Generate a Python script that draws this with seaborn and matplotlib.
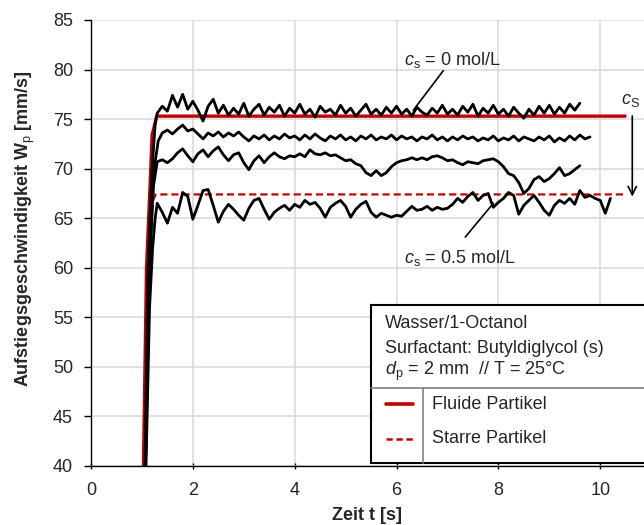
import numpy as np
import pandas as pd
import seaborn as sns
import matplotlib.pyplot as plt
from matplotlib.patches import Rectangle
from matplotlib.lines import Line2D

# Rise-velocity curves (sampling step 0.1 s after the rise)
STEP = 0.1

# c_s = 0 mol/L
a_rise_t = [1.06, 1.12, 1.20, 1.26]
a_rise_v = [40.0, 60.0, 70.0, 74.5]
a_start = 1.3
a_vals = [75.6, 76.3, 75.8, 77.4, 76.2, 77.5, 76.0, 76.8, 75.9, 74.8,
          76.3, 77.0, 75.6, 76.4, 75.4, 76.1, 75.5, 76.6, 75.3, 76.0,
          76.5, 75.4, 76.2, 75.7, 76.4, 75.3, 76.1, 75.6, 76.5, 75.5,
          76.0, 75.2, 76.3, 75.7, 76.0, 75.4, 76.4, 75.6, 76.1, 75.3,
          75.9, 76.5, 75.5, 76.0, 75.4, 76.2, 75.6, 76.3, 75.5, 76.0,
          75.3, 76.2, 75.7, 75.4, 76.1, 75.6, 76.4, 75.5, 76.0, 75.4,
          76.3, 75.7, 76.5, 75.3, 76.1, 75.6, 76.4, 75.5, 76.0, 75.3,
          76.2, 75.6, 75.1, 76.0, 75.4, 76.3, 75.6, 76.4, 75.5, 76.2,
          75.6, 76.5, 75.9, 76.6]

# second curve
b_rise_t = [1.07, 1.14, 1.24, 1.32]
b_rise_v = [40.0, 60.0, 70.0, 72.8]
b_start = 1.4
b_vals = [73.6, 73.9, 73.5, 74.0, 74.4, 73.8, 74.0, 73.5, 73.0, 73.6,
          73.3, 73.7, 73.2, 73.6, 73.3, 73.7, 73.2, 72.8, 73.3, 73.0,
          73.4, 72.9, 73.3, 73.0, 73.5, 73.1, 73.3, 72.9, 73.4, 73.0,
          73.5, 73.1, 72.8, 73.3, 73.0, 73.4, 72.9, 73.2, 72.8, 73.3,
          73.0, 73.4, 72.9, 73.2, 73.0, 73.4, 72.9, 73.3, 73.0, 73.2,
          72.8, 73.2, 73.0, 73.4, 72.9, 73.2, 72.8, 73.2, 72.9, 73.3,
          73.0, 73.2, 72.8, 73.1, 72.9, 73.3, 72.8, 73.1, 72.9, 73.3,
          72.8, 73.2, 73.0, 72.8, 73.2, 72.9, 73.3, 72.7, 73.1, 72.8,
          73.3, 72.9, 73.4, 73.0, 73.2]

# third curve
c_rise_t = [1.07, 1.15, 1.22]
c_rise_v = [40.0, 60.0, 68.0]
c_start = 1.3
c_vals = [70.7, 70.9, 70.6, 71.0, 71.6, 72.0, 71.3, 70.7, 71.5, 71.9,
          71.2, 71.8, 72.2, 71.4, 70.8, 71.4, 71.6, 70.6, 69.9, 70.8,
          71.3, 70.6, 71.2, 71.6, 71.2, 71.0, 71.3, 71.2, 71.5, 71.2,
          71.9, 71.5, 71.4, 71.6, 71.3, 71.4, 71.1, 70.8, 70.9, 70.5,
          70.3, 69.6, 69.3, 69.8, 69.3, 69.6, 70.2, 70.6, 70.8, 70.9,
          71.1, 70.9, 71.1, 70.9, 71.2, 71.3, 71.1, 70.8, 70.9, 70.6,
          70.4, 70.7, 70.6, 70.5, 70.8, 70.9, 71.0, 70.7, 70.2, 69.5,
          69.3, 68.6, 67.5, 68.0, 68.9, 69.2, 68.7, 69.0, 69.5, 70.1,
          69.3, 69.5, 69.9, 70.3]

# c_s = 0.5 mol/L
d_rise_t = [1.08, 1.15, 1.21, 1.26]
d_rise_v = [40.0, 56.0, 62.0, 65.0]
d_start = 1.3
d_vals = [66.5, 65.6, 64.5, 66.1, 65.5, 67.6, 67.2, 64.9, 66.3, 67.8,
          67.9, 66.3, 64.6, 65.7, 66.4, 65.9, 65.3, 64.8, 66.0, 66.8,
          67.0, 65.9, 64.9, 65.6, 66.0, 66.3, 65.8, 66.4, 66.1, 66.8,
          66.4, 66.6, 66.0, 65.1, 66.1, 66.5, 66.8, 66.2, 65.1, 65.9,
          66.4, 66.7, 65.6, 65.1, 65.5, 65.3, 65.1, 65.3, 65.2, 65.7,
          66.2, 65.8, 65.9, 66.2, 65.8, 66.1, 65.9, 66.0, 66.4, 67.0,
          66.6, 67.2, 67.6, 66.8, 67.3, 67.5, 66.1, 66.6, 67.0, 67.6,
          67.3, 65.4, 66.3, 66.8, 67.3, 66.6, 65.8, 65.3, 66.3, 66.8,
          66.5, 67.0, 66.4, 67.8, 67.1, 67.3, 67.0, 66.8, 65.5, 67.0]

# model lines
fluid_t = [1.03, 1.09, 1.16, 1.20, 1.29, 10.49]
fluid_v = [40.0, 60.0, 68.3, 73.4, 75.3, 75.3]
rigid_t = [1.22, 1.27, 10.49]
rigid_v = [66.8, 67.4, 67.4]


def build_curve(rise_t, rise_v, start, vals, name):
    t = list(rise_t) + list(np.round(start + STEP * np.arange(len(vals)), 2))
    v = list(rise_v) + list(vals)
    return pd.DataFrame({'t': t, 'w': v, 'curve': name})


curves = pd.concat([
    build_curve(a_rise_t, a_rise_v, a_start, a_vals, 'a'),
    build_curve(b_rise_t, b_rise_v, b_start, b_vals, 'b'),
    build_curve(c_rise_t, c_rise_v, c_start, c_vals, 'c'),
    build_curve(d_rise_t, d_rise_v, d_start, d_vals, 'd'),
], ignore_index=True)

sns.set_style("whitegrid")
plt.rcParams['font.family'] = ['Liberation Sans', 'DejaVu Sans']
plt.rcParams['mathtext.fontset'] = 'custom'
plt.rcParams['mathtext.rm'] = 'Liberation Sans'
plt.rcParams['mathtext.it'] = 'Liberation Sans:italic'
plt.rcParams['mathtext.bf'] = 'Liberation Sans:bold'

fig = plt.figure(figsize=(6.44, 5.25), dpi=100)
ax = fig.add_axes([91 / 644, 59 / 525, 553 / 644, 446 / 525])

RED = '#c00000'
sns.lineplot(x=fluid_t, y=fluid_v, ax=ax, color=RED, lw=2.4, sort=False)
sns.lineplot(x=rigid_t, y=rigid_v, ax=ax, color=RED, lw=1.6, sort=False,
             linestyle=(0, (3.2, 1.8)))
sns.lineplot(data=curves, x='t', y='w', units='curve', estimator=None,
             sort=False, color='black', lw=2.0, ax=ax)

ax.set_xlim(0, 10.86)
ax.set_ylim(40, 85)
ax.set_xticks([0, 2, 4, 6, 8, 10])
ax.set_yticks(range(40, 86, 5))
ax.grid(True, color='#d9d9d9', lw=1.1)
ax.tick_params(axis='y', labelsize=13, direction='out', length=5, width=1,
               color='black', left=True, pad=8)
ax.tick_params(axis='x', labelsize=13, direction='inout', length=5, width=1,
               color='black', bottom=True, pad=9)
for side in ['top', 'right']:
    ax.spines[side].set_visible(False)
for side in ['left', 'bottom']:
    ax.spines[side].set_color('black')
    ax.spines[side].set_linewidth(1.0)

ax.set_xlabel('Zeit t [s]', fontsize=13, fontweight='bold', labelpad=6)
ax.set_ylabel(r'Aufstiegsgeschwindigkeit W$_\mathrm{p}$ [mm/s]', fontsize=13,
              fontweight='bold')
ax.yaxis.set_label_coords(-0.098, 0.533)

# annotations
ax.text(7.1, 81.0, r'$c_\mathrm{s}$ = 0 mol/L', fontsize=13, ha='center', va='center')
ax.plot([6.33, 6.92], [75.9, 79.9], color='black', lw=1.2)
ax.text(7.25, 61.0, r'$c_\mathrm{s}$ = 0.5 mol/L', fontsize=13, ha='center', va='center')
ax.plot([7.35, 7.9], [63.1, 66.5], color='black', lw=1.2)
ax.text(10.6, 76.9, r'$c_\mathrm{S}$', fontsize=13, ha='center', va='center')
ax.annotate('', xy=(10.63, 66.9), xytext=(10.63, 75.6),
            arrowprops=dict(arrowstyle='->', lw=1.2, color='black', mutation_scale=15))

# legend box drawn as a small table
tr = ax.transAxes
ax.add_patch(Rectangle((0.506, 0.0074), 0.52, 0.353, transform=tr, fill=True,
                       facecolor='white', edgecolor='black', lw=1.5, zorder=5,
                       clip_on=False))
ax.add_line(Line2D([0.506, 1.02], [0.174, 0.174], transform=tr, color='#808080',
                   lw=1.2, zorder=6, clip_on=False))
ax.add_line(Line2D([0.600, 0.600], [0.0074, 0.174], transform=tr, color='#808080',
                   lw=1.2, zorder=6, clip_on=False))
ax.text(0.532, 0.319, 'Wasser/1-Octanol', transform=tr, fontsize=13, va='center', zorder=7)
ax.text(0.532, 0.263, 'Surfactant: Butyldiglycol (s)', transform=tr, fontsize=13,
        va='center', zorder=7)
ax.text(0.532, 0.211, r'$d_\mathrm{p}$ = 2 mm  // T = 25°C', transform=tr, fontsize=13,
        va='center', zorder=7)
ax.add_line(Line2D([0.533, 0.582], [0.139, 0.139], transform=tr, color=RED, lw=2.6,
                   zorder=7))
ax.add_line(Line2D([0.533, 0.582], [0.061, 0.061], transform=tr, color=RED, lw=1.8,
                   linestyle=(0, (2.5, 1.5)), zorder=7))
ax.text(0.617, 0.139, 'Fluide Partikel', transform=tr, fontsize=13, va='center', zorder=7)
ax.text(0.617, 0.061, 'Starre Partikel', transform=tr, fontsize=13, va='center', zorder=7)

fig.savefig('out.png', dpi=100)
